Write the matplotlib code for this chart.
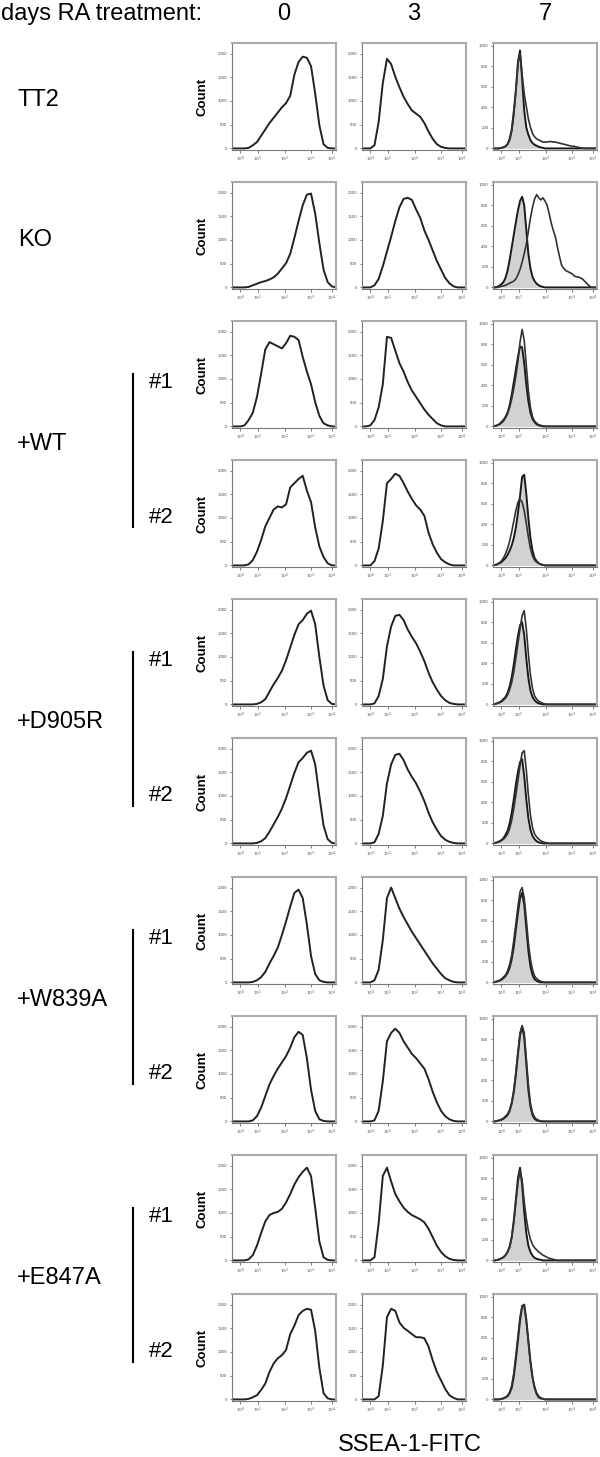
import numpy as np
import matplotlib.pyplot as plt
from matplotlib.lines import Line2D

plt.rcParams['font.family'] = ['Liberation Sans', 'DejaVu Sans']

# labels
days = ["0", "3", "7"]
groups = ["TT2", "KO", "+WT", "+D905R", "+W839A", "+E847A"]
group_rows = [[0], [1], [2, 3], [4, 5], [6, 7], [8, 9]]
clones = ["#1", "#2"]
x_tick_labels = [r"$10^0$", r"$10^1$", r"$10^2$", r"$10^3$", r"$10^4$"]
y_tick_labels = ["0", "500", "1000", "1500", "2000"]
y_tick_labels_d7 = ["0", "200", "400", "600", "800", "1000"]

# sampling grid of the histograms (fraction of the display axis)
x_coarse = np.round(np.arange(26) * 0.04, 2)
x_fine = np.round(np.arange(51) * 0.02, 2)

# day 0 / day 3 histograms, % of axis height, read on x_coarse
tt2_d0 = [0, 0, 0, 0, 0.5, 3, 6, 12, 18, 24, 29, 34, 39, 43, 50, 70, 82, 87, 86, 78, 52, 22, 4, 0.5, 0, 0]
tt2_d3 = [0, 0, 0, 3, 25, 62, 85, 80, 68, 58, 49, 42, 36, 33, 30, 24, 16, 9, 4, 1.5, 0.5, 0, 0, 0, 0, 0]
ko_d0 = [0, 0, 0, 0, 0.5, 2, 3.5, 5, 6, 7.5, 9.5, 13, 18, 23, 32, 47, 63, 78, 88, 89, 70, 42, 17, 5, 1, 0]
ko_d3 = [0, 0, 0, 2, 8, 20, 34, 48, 63, 76, 84, 85, 83, 74, 66, 54, 45, 35, 25, 17, 9, 4, 1, 0, 0, 0]
wt1_d0 = [0, 0, 0, 1, 6, 13, 28, 50, 73, 80, 78, 76, 74, 79, 86, 85, 82, 66, 52, 40, 23, 10, 3, 1, 0, 0]
wt1_d3 = [0, 0, 1, 6, 18, 40, 85, 84, 72, 60, 52, 42, 34, 28, 22, 16, 11, 7, 3, 1, 0, 0, 0, 0, 0, 0]
wt2_d0 = [0, 0, 0, 0, 1, 5, 13, 24, 37, 45, 53, 56, 55, 58, 74, 78, 82, 85, 71, 60, 36, 18, 8, 2, 0, 0]
wt2_d3 = [0, 0, 0, 4, 16, 42, 78, 82, 87, 85, 78, 70, 63, 57, 53, 47, 31, 20, 12, 6, 3, 1, 0, 0, 0, 0]
d905r1_d0 = [0, 0, 0, 0, 0, 0, 0.5, 2, 5, 12, 19, 25, 32, 42, 54, 66, 76, 80, 86, 89, 76, 45, 18, 4, 0.5, 0]
d905r1_d3 = [0, 0, 0, 1, 8, 24, 55, 74, 84, 85, 80, 71, 64, 58, 50, 41, 30, 21, 14, 8, 4, 1.5, 0.5, 0, 0, 0]
d905r2_d0 = [0, 0, 0, 0, 0, 0, 0.5, 2, 5, 11, 18, 25, 33, 43, 55, 67, 77, 81, 86, 88, 75, 45, 17, 4, 0.5, 0]
d905r2_d3 = [0, 0, 0, 1, 9, 26, 57, 75, 84, 85, 79, 70, 63, 57, 49, 40, 29, 20, 13, 7, 3.5, 1.5, 0.5, 0, 0, 0]
w839a1_d0 = [0, 0, 0, 0, 0, 0.5, 2, 5, 10, 18, 25, 33, 45, 58, 72, 85, 88, 80, 55, 25, 8, 2, 0.5, 0, 0, 0]
w839a1_d3 = [0, 0, 0, 2, 12, 40, 80, 90, 80, 70, 62, 55, 48, 42, 36, 30, 24, 18, 13, 8, 4, 2, 0.5, 0, 0, 0]
w839a2_d0 = [0, 0, 0, 0, 0, 1, 5, 13, 24, 35, 43, 50, 56, 62, 70, 80, 85, 82, 60, 30, 10, 2, 0.5, 0, 0, 0]
w839a2_d3 = [0, 0, 0, 1, 10, 38, 76, 84, 88, 84, 76, 70, 64, 60, 55, 50, 40, 28, 18, 10, 5, 2, 0.5, 0, 0, 0]
e847a1_d0 = [0, 0, 0, 0, 1, 5, 14, 26, 37, 43, 45, 46, 49, 55, 63, 72, 79, 84, 88, 80, 50, 18, 3, 0.5, 0, 0]
e847a1_d3 = [0, 0, 0, 3, 35, 80, 88, 75, 63, 56, 50, 46, 43, 41, 39, 36, 30, 22, 14, 8, 4, 1.5, 0.5, 0, 0, 0]
e847a2_d0 = [0, 0, 0, 0, 0.5, 2, 4, 9, 15, 26, 34, 39, 42, 47, 62, 70, 80, 84, 86, 85, 65, 30, 6, 1, 0, 0]
e847a2_d3 = [0, 0, 0, 0, 3, 32, 78, 86, 84, 73, 68, 65, 62, 59, 59, 58, 50, 37, 26, 18, 10, 4, 1.5, 0, 0, 0]

# day 7 histograms (filled = grey control, line = sample), read on x_fine
tt2_d7_fill = [0, 0, 0, 0, 0.5, 1, 2, 4, 9, 18,
               35, 55, 82, 93, 66, 36, 20, 13, 8, 5,
               3.5, 2.5, 1.5, 1, 0.5, 0, 0, 0, 0, 0,
               0, 0, 0, 0, 0, 0, 0, 0, 0, 0,
               0, 0, 0, 0, 0, 0, 0, 0, 0, 0, 0]
tt2_d7_line = [0, 0, 0, 0, 0.5, 1, 2, 4, 8, 16,
               32, 55, 80, 90, 70, 52, 40, 28, 20, 14,
               11, 9, 8, 7, 6, 6, 6, 6.5, 6.5, 6,
               6, 5.5, 5, 4.5, 4, 3.5, 3, 2.5, 2, 2,
               1.5, 1, 0.5, 0.3, 0, 0, 0, 0, 0, 0, 0]
ko_d7_fill = [0, 0, 0.5, 1.5, 3, 5, 9, 16, 26, 38,
              50, 62, 73, 82, 86, 78, 55, 32, 18, 10,
              6, 3.5, 2, 1, 0.5, 0, 0, 0, 0, 0,
              0, 0, 0, 0, 0, 0, 0, 0, 0, 0,
              0, 0, 0, 0, 0, 0, 0, 0, 0, 0, 0]
ko_d7_line = [0, 0, 0, 0.5, 1, 1.5, 2, 3, 4, 5,
              6, 8, 12, 17, 24, 32, 41, 53, 66, 76,
              84, 88, 85, 83, 85, 82, 78, 70, 61, 54,
              48, 38, 29, 21, 18, 16, 15, 14, 13, 11,
              10, 10, 9, 8, 6, 4, 2, 0.5, 0, 0, 0]
wt1_d7_fill = [0, 0.5, 1, 2, 4, 6, 9, 13, 20, 30,
               42, 54, 66, 76, 75, 60, 40, 24, 13, 7,
               4, 2, 1, 0.5, 0, 0, 0, 0, 0, 0,
               0, 0, 0, 0, 0, 0, 0, 0, 0, 0,
               0, 0, 0, 0, 0, 0, 0, 0, 0, 0, 0]
wt1_d7_line = [0, 0.5, 1, 2, 3, 5, 8, 12, 18, 26,
               36, 48, 62, 80, 92, 82, 58, 34, 18, 9,
               5, 3, 1.5, 1, 0.5, 0, 0, 0, 0, 0,
               0, 0, 0, 0, 0, 0, 0, 0, 0, 0,
               0, 0, 0, 0, 0, 0, 0, 0, 0, 0, 0]
wt2_d7_fill = [0, 0.5, 1, 2, 3, 5, 7, 10, 14, 19,
               26, 36, 50, 66, 84, 86, 68, 45, 26, 14,
               7, 4, 2, 1, 0.5, 0, 0, 0, 0, 0,
               0, 0, 0, 0, 0, 0, 0, 0, 0, 0,
               0, 0, 0, 0, 0, 0, 0, 0, 0, 0, 0]
wt2_d7_line = [0, 0.5, 1, 2.5, 4, 7, 11, 16, 23, 32,
               42, 52, 60, 63, 60, 52, 40, 27, 16, 9,
               5, 3, 2, 1, 0.5, 0, 0, 0, 0, 0,
               0, 0, 0, 0, 0, 0, 0, 0, 0, 0,
               0, 0, 0, 0, 0, 0, 0, 0, 0, 0, 0]
d905r1_d7_fill = [0, 0.5, 1, 2, 3, 5, 7, 11, 17, 26,
                  38, 52, 65, 75, 78, 66, 44, 25, 13, 7,
                  4, 2, 1, 0.5, 0, 0, 0, 0, 0, 0,
                  0, 0, 0, 0, 0, 0, 0, 0, 0, 0,
                  0, 0, 0, 0, 0, 0, 0, 0, 0, 0, 0]
d905r1_d7_line = [0, 0.5, 1, 1.5, 2.5, 4, 6, 9, 14, 21,
                  31, 44, 58, 72, 84, 89, 72, 48, 28, 15,
                  8, 5, 3, 2, 1, 0.5, 0, 0, 0, 0,
                  0, 0, 0, 0, 0, 0, 0, 0, 0, 0,
                  0, 0, 0, 0, 0, 0, 0, 0, 0, 0, 0]
d905r2_d7_fill = [0, 0.5, 1, 2, 3, 5, 8, 12, 19, 29,
                  42, 56, 68, 77, 80, 64, 42, 24, 13, 7,
                  4, 2, 1, 0.5, 0, 0, 0, 0, 0, 0,
                  0, 0, 0, 0, 0, 0, 0, 0, 0, 0,
                  0, 0, 0, 0, 0, 0, 0, 0, 0, 0, 0]
d905r2_d7_line = [0, 0.5, 1, 1.5, 2.5, 4, 6, 9, 14, 22,
                  33, 46, 60, 74, 86, 88, 70, 46, 27, 15,
                  9, 6, 4, 2.5, 1.5, 1, 0.5, 0, 0, 0,
                  0, 0, 0, 0, 0, 0, 0, 0, 0, 0,
                  0, 0, 0, 0, 0, 0, 0, 0, 0, 0, 0]
w839a1_d7_fill = [0, 0.5, 1, 1.5, 2.5, 4, 6, 9, 14, 22,
                  34, 50, 66, 80, 85, 74, 52, 30, 15, 7,
                  3, 1.5, 0.5, 0, 0, 0, 0, 0, 0, 0,
                  0, 0, 0, 0, 0, 0, 0, 0, 0, 0,
                  0, 0, 0, 0, 0, 0, 0, 0, 0, 0, 0]
w839a1_d7_line = [0, 0.5, 1, 2, 3, 5, 7, 11, 17, 26,
                  40, 56, 72, 86, 90, 80, 60, 38, 22, 12,
                  6, 3.5, 2, 1, 0.5, 0, 0, 0, 0, 0,
                  0, 0, 0, 0, 0, 0, 0, 0, 0, 0,
                  0, 0, 0, 0, 0, 0, 0, 0, 0, 0, 0]
w839a2_d7_fill = [0, 0, 0.5, 1, 1.5, 2.5, 4, 6, 10, 17,
                  28, 44, 64, 82, 90, 80, 55, 30, 14, 6,
                  2.5, 1, 0.5, 0, 0, 0, 0, 0, 0, 0,
                  0, 0, 0, 0, 0, 0, 0, 0, 0, 0,
                  0, 0, 0, 0, 0, 0, 0, 0, 0, 0, 0]
w839a2_d7_line = [0, 0, 0.5, 1, 2, 3, 5, 7, 11, 18,
                  30, 47, 66, 84, 91, 84, 60, 35, 17, 8,
                  4, 2, 1, 0.5, 0, 0, 0, 0, 0, 0,
                  0, 0, 0, 0, 0, 0, 0, 0, 0, 0,
                  0, 0, 0, 0, 0, 0, 0, 0, 0, 0, 0]
e847a1_d7_fill = [0, 0, 0.5, 1, 2, 3, 5, 8, 13, 22,
                  38, 58, 78, 88, 72, 46, 26, 14, 8, 4.5,
                  2.5, 1.5, 1, 0.5, 0, 0, 0, 0, 0, 0,
                  0, 0, 0, 0, 0, 0, 0, 0, 0, 0,
                  0, 0, 0, 0, 0, 0, 0, 0, 0, 0, 0]
e847a1_d7_line = [0, 0, 0.5, 1, 2, 3, 5, 8, 13, 22,
                  36, 55, 74, 85, 76, 56, 40, 28, 20, 15,
                  12, 10, 8, 6.5, 5, 4, 3, 2, 1.5, 1,
                  0.5, 0, 0, 0, 0, 0, 0, 0, 0, 0,
                  0, 0, 0, 0, 0, 0, 0, 0, 0, 0, 0]
e847a2_d7_fill = [0, 0, 0, 0, 0.5, 1, 2, 3, 6, 11,
                  22, 38, 56, 75, 88, 90, 76, 56, 36, 21,
                  11, 5, 2, 1, 0.5, 0, 0, 0, 0, 0,
                  0, 0, 0, 0, 0, 0, 0, 0, 0, 0,
                  0, 0, 0, 0, 0, 0, 0, 0, 0, 0, 0]
e847a2_d7_line = [0, 0, 0, 0, 0.5, 1, 2, 3.5, 7, 13,
                  25, 42, 60, 78, 89, 89, 74, 54, 35, 21,
                  12, 6, 3, 1.5, 0.5, 0, 0, 0, 0, 0,
                  0, 0, 0, 0, 0, 0, 0, 0, 0, 0,
                  0, 0, 0, 0, 0, 0, 0, 0, 0, 0, 0]

rows = [
    (tt2_d0, tt2_d3, tt2_d7_fill, tt2_d7_line),
    (ko_d0, ko_d3, ko_d7_fill, ko_d7_line),
    (wt1_d0, wt1_d3, wt1_d7_fill, wt1_d7_line),
    (wt2_d0, wt2_d3, wt2_d7_fill, wt2_d7_line),
    (d905r1_d0, d905r1_d3, d905r1_d7_fill, d905r1_d7_line),
    (d905r2_d0, d905r2_d3, d905r2_d7_fill, d905r2_d7_line),
    (w839a1_d0, w839a1_d3, w839a1_d7_fill, w839a1_d7_line),
    (w839a2_d0, w839a2_d3, w839a2_d7_fill, w839a2_d7_line),
    (e847a1_d0, e847a1_d3, e847a1_d7_fill, e847a1_d7_line),
    (e847a2_d0, e847a2_d3, e847a2_d7_fill, e847a2_d7_line),
]

# layout in pixels
W, H = 600, 1457
col_left = [232, 362, 493]
panel_w, panel_h = 104, 107
row_top0, row_step = 43, 139


def fy(py):
    return 1 - py / H


def row_center(r):
    return row_top0 + r * row_step + panel_h / 2


def style_axes(ax, yticks, ylabels):
    ax.set_xlim(0, 1)
    ax.set_ylim(-1.5, 100)
    ax.set_xticks([0.08, 0.25, 0.51, 0.76, 0.96])
    ax.set_xticklabels(x_tick_labels)
    ax.set_yticks(yticks)
    ax.set_yticklabels(ylabels)
    ax.tick_params(direction="out", length=1.8, width=0.6, color="#666666",
                   labelsize=3.2, labelcolor="#555555", pad=1.5)
    for side in ["top", "right"]:
        ax.spines[side].set_color("#ababab")
        ax.spines[side].set_linewidth(1.5)
    for side in ["left", "bottom"]:
        ax.spines[side].set_color("#7a7a7a")
        ax.spines[side].set_linewidth(0.8)


fig = plt.figure(figsize=(W / 100, H / 100), dpi=100)

line_col = "#222222"
for r, (d0, d3, d7_fill, d7_line) in enumerate(rows):
    top = row_top0 + r * row_step
    axes = []
    for c in range(3):
        ax = fig.add_axes([col_left[c] / W, fy(top + panel_h), panel_w / W, panel_h / H])
        axes.append(ax)
    axes[0].plot(x_coarse, d0, color=line_col, lw=1.4)
    axes[1].plot(x_coarse, d3, color=line_col, lw=1.4)
    axes[2].fill_between(x_fine, d7_fill, color="#d2d2d2", lw=0)
    axes[2].plot(x_fine, d7_fill, color="#1a1a1a", lw=1.4)
    axes[2].plot(x_fine, d7_line, color="#333333", lw=1.2)
    style_axes(axes[0], [0, 22.5, 45, 67.5, 90], y_tick_labels)
    style_axes(axes[1], [0, 22.5, 45, 67.5, 90], y_tick_labels)
    style_axes(axes[2], [0, 19.5, 39, 58.5, 78, 97.5], y_tick_labels_d7)
    fig.text(203 / W, fy(top + panel_h / 2), "Count", rotation=90, fontsize=9.5,
             fontweight="bold", ha="center", va="center")

# header
fig.text(1 / W, fy(14), "days RA treatment:", fontsize=17, ha="left", va="center")
for c, d in enumerate(days):
    fig.text((col_left[c] + panel_w / 2) / W, fy(14), d, fontsize=17, ha="center", va="center")

# row labels, clone brackets
for name, rr in zip(groups, group_rows):
    if len(rr) == 1:
        fig.text(18 / W, fy(row_center(rr[0]) + 4), name, fontsize=17, ha="left", va="center")
    else:
        mid = (row_center(rr[0]) + row_center(rr[1])) / 2
        fig.text(17 / W, fy(mid), name, fontsize=17, ha="left", va="center")
        fig.add_artist(Line2D([133 / W, 133 / W],
                              [fy(row_center(rr[0]) - 1), fy(row_center(rr[1]) + 14)],
                              transform=fig.transFigure, color="black", lw=1.5))
        fig.text(149 / W, fy(row_center(rr[0]) + 8), clones[0], fontsize=16, ha="left", va="center")
        fig.text(149 / W, fy(row_center(rr[1]) + 4), clones[1], fontsize=16, ha="left", va="center")

fig.text(410 / W, fy(1445), "SSEA-1-FITC", fontsize=17, ha="center", va="center")

fig.savefig("out.png", dpi=100)
